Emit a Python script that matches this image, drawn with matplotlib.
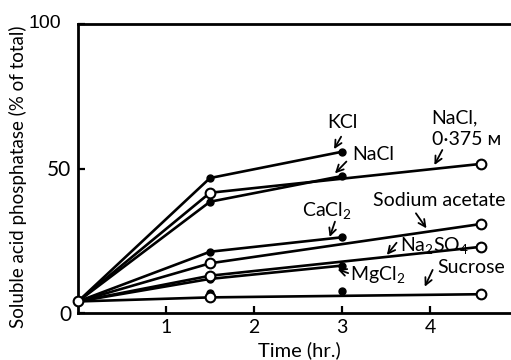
import matplotlib
matplotlib.use("Agg")
import matplotlib.pyplot as plt

plt.rcParams['font.family'] = ['Lato', 'DejaVu Sans']

# Data
t_filled = [0, 1.5, 3]
kcl = [4, 46.7, 55.8]
nacl = [4, 38.5, 47.4]
cacl2 = [4, 21.2, 26.2]
mgcl2 = [4, 11.8, 16.4]
t_suc_filled = [1.5, 3]
sucrose_filled = [7.0, 7.6]

t_open = [0, 1.5, 4.58]
nacl_0375 = [4, 41.6, 51.6]
na_acetate = [4, 17.2, 30.8]
na2so4 = [4, 12.9, 22.9]
sucrose_open = [4, 5.4, 6.5]

x_ticks = [1, 2, 3, 4]
y_ticks = [0, 50, 100]

fig = plt.figure(figsize=(5.11, 3.60), dpi=100)
ax = fig.add_axes([78/511, 1-313/360, 1-78/511, (313-24)/360])

lw = 1.9
for ys in [kcl, nacl, cacl2, mgcl2]:
    ax.plot(t_filled, ys, color='black', lw=lw, zorder=2)
    ax.plot(t_filled[1:], ys[1:], 'o', color='black', ms=5, zorder=3)
ax.plot(t_suc_filled, sucrose_filled, 'o', color='black', ms=5, zorder=3)
for ys in [nacl_0375, na_acetate, na2so4, sucrose_open]:
    ax.plot(t_open, ys, color='black', lw=lw, zorder=2)
    ax.plot(t_open[1:], ys[1:], 'o', mfc='white', mec='black', mew=1.5, ms=7, zorder=4)
ax.plot([0], [4], 'o', mfc='white', mec='black', mew=1.5, ms=7, zorder=5, clip_on=False)

ax.set_xlim(0, (511-78)/88)
ax.set_ylim(0, 100)
ax.set_xticks(x_ticks)
ax.set_xticklabels([str(v) for v in x_ticks], fontsize=14)
ax.set_yticks(y_ticks)
ax.set_yticklabels(['0', '50', ''], fontsize=15)
ax.text(-0.19, 100, '100', family='Liberation Sans', fontsize=14, ha='right', va='center')
ax.tick_params(direction='in', length=5, width=1.6, pad=5)
ax.tick_params(axis='x', pad=4)
for s in ['left', 'bottom', 'top']:
    ax.spines[s].set_linewidth(2.0)
ax.spines['right'].set_visible(False)

fig.text(299/511, 1-350/360, 'Time (hr.)', ha='center', va='center', fontsize=14.5)
fig.text(18/511, 1-177/360, 'Soluble acid phosphatase (% of total)', rotation=90,
         ha='center', va='center', fontsize=13.5)

ap = dict(arrowstyle='->,head_length=0.5,head_width=0.25', color='black', lw=1.3, shrinkA=0, shrinkB=0)
fs = 14
ax.annotate('', xy=(2.91, 56.7), xytext=(2.99, 61.0), arrowprops=ap)
ax.text(3.01, 65.8, 'KCl', ha='center', va='center', fontsize=fs)
ax.annotate('', xy=(2.92, 48.3), xytext=(3.05, 52.4), arrowprops=ap)
ax.text(3.35, 54.7, 'NaCl', ha='center', va='center', fontsize=fs)
ax.annotate('', xy=(4.05, 51.2), xytext=(4.14, 56.4), arrowprops=ap)
ax.text(4.28, 67.5, 'NaCl,', ha='center', va='center', fontsize=fs)
ax.text(4.02, 60.2, '0·375 ᴍ', ha='left', va='center', fontsize=fs)
ax.annotate('', xy=(2.86, 26.3), xytext=(2.92, 31.6), arrowprops=ap)
ax.text(2.83, 35.1, 'CaCl$_\\mathregular{2}$', ha='center', va='center', fontsize=fs)
ax.annotate('', xy=(3.96, 29.3), xytext=(3.84, 34.5), arrowprops=ap)
ax.text(4.11, 39.1, 'Sodium acetate', ha='center', va='center', fontsize=fs)
ax.annotate('', xy=(3.51, 20.1), xytext=(3.62, 24.3), arrowprops=ap)
ax.text(3.66, 23.2, 'Na$_\\mathregular{2}$SO$_\\mathregular{4}$', ha='left', va='center', fontsize=fs)
ax.annotate('', xy=(2.95, 15.1), xytext=(3.07, 13.8), arrowprops=ap)
ax.text(3.09, 13.1, 'MgCl$_\\mathregular{2}$', ha='left', va='center', fontsize=fs)
ax.annotate('', xy=(3.94, 9.1), xytext=(4.03, 14.9), arrowprops=ap)
ax.text(4.08, 15.6, 'Sucrose', ha='left', va='center', fontsize=fs)

fig.savefig('out.png', dpi=100)
